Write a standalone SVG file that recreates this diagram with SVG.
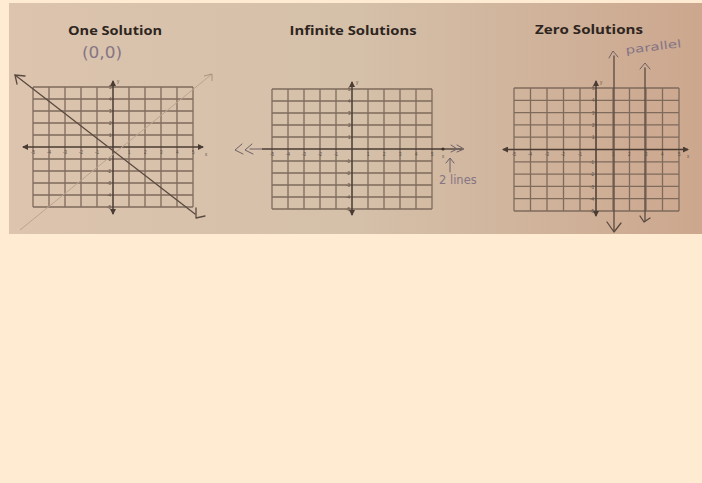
<svg xmlns="http://www.w3.org/2000/svg" width="702" height="483" viewBox="0 0 702 483">
<defs>
<linearGradient id="paper" x1="0" y1="0" x2="1" y2="0">
<stop offset="0" stop-color="#dcc4ae"/>
<stop offset="0.5" stop-color="#d5c0a9"/>
<stop offset="1" stop-color="#cca78e"/>
</linearGradient>
<marker id="ah" viewBox="0 0 6 6" refX="5" refY="3" markerWidth="4" markerHeight="4" orient="auto-start-reverse">
<path d="M0 0L6 3L0 6z" fill="#4a3c33"/>
</marker>
</defs>
<style>
.title{font-family:"Open Sans","Liberation Sans",sans-serif;font-weight:700;font-size:12px;fill:#2e2520}
.grid{fill:none;stroke:#7f6b5c;stroke-width:1.3}
.axis{fill:none;stroke:#4a3c33;stroke-width:1.5}
.tick{font-family:"Liberation Sans",sans-serif;font-size:4.5px;fill:#5e4e43}
.hand{font-family:"DejaVu Sans","Liberation Sans",sans-serif;fill:#857585}
.pen{fill:none;stroke:#5a4a40;stroke-width:1.3;stroke-linecap:round;stroke-linejoin:round}
.pencil{fill:none;stroke:#6e6068;stroke-width:1;stroke-linecap:round;stroke-linejoin:round}
</style>
<rect width="702" height="483" fill="#feebd2"/>
<rect x="9" y="3" width="693" height="231" fill="url(#paper)"/>

<g id="one-solution">
<text class="title" x="115" y="35" text-anchor="middle" textLength="94" lengthAdjust="spacingAndGlyphs">One Solution</text>
<text class="hand" x="102" y="58" font-size="16" text-anchor="middle" textLength="40" lengthAdjust="spacingAndGlyphs">(0,0)</text>
<path class="grid" d="M33 87V207M49 87V207M65 87V207M81 87V207M97 87V207M129 87V207M145 87V207M161 87V207M177 87V207M193 87V207M33 87H193M33 99H193M33 111H193M33 123H193M33 135H193M33 159H193M33 171H193M33 183H193M33 195H193M33 207H193"/>
<path class="axis" d="M23 147H203" marker-start="url(#ah)" marker-end="url(#ah)"/>
<path class="axis" d="M113 81V214" marker-start="url(#ah)" marker-end="url(#ah)"/>
<text class="tick" x="117" y="83">y</text>
<text class="tick" x="205" y="156">x</text>
<g class="tick"><text x="31" y="154">-5</text><text x="47" y="154">-4</text><text x="63" y="154">-3</text><text x="79" y="154">-2</text><text x="95" y="154">-1</text><text x="128" y="154">1</text><text x="144" y="154">2</text><text x="160" y="154">3</text><text x="176" y="154">4</text><text x="192" y="154">5</text>
<text x="109" y="89">5</text><text x="109" y="101">4</text><text x="109" y="113">3</text><text x="109" y="125">2</text><text x="109" y="137">1</text><text x="107" y="161">-1</text><text x="107" y="173">-2</text><text x="107" y="185">-3</text><text x="107" y="197">-4</text><text x="107" y="209">-5</text></g>
<path d="M20 230L212 74" fill="none" stroke="#bba590" stroke-width="1"/>
<path d="M204 76L212 74L212 81" fill="none" stroke="#a99080" stroke-width="1"/>
<path class="pen" d="M15 75L195 214"/>
<path class="pen" d="M15 75L25 76M15 75L17 84"/>
<path class="pen" d="M196 208L196 218L205 216"/>
</g>

<g id="infinite-solutions">
<text class="title" x="353" y="35" text-anchor="middle" textLength="127" lengthAdjust="spacingAndGlyphs">Infinite Solutions</text>
<path class="grid" d="M272 89V209M288 89V209M304 89V209M320 89V209M336 89V209M368 89V209M384 89V209M400 89V209M416 89V209M432 89V209M272 89H432M272 101H432M272 113H432M272 125H432M272 137H432M272 161H432M272 173H432M272 185H432M272 197H432M272 209H432"/>
<path class="axis" d="M262 149H443"/>
<path class="axis" d="M352 82V215" marker-start="url(#ah)" marker-end="url(#ah)"/>
<text class="tick" x="356" y="84">y</text>
<text class="tick" x="442" y="158">x</text>
<g class="tick"><text x="270" y="156">-5</text><text x="286" y="156">-4</text><text x="302" y="156">-3</text><text x="318" y="156">-2</text><text x="334" y="156">-1</text><text x="367" y="156">1</text><text x="383" y="156">2</text><text x="399" y="156">3</text><text x="415" y="156">4</text><text x="431" y="156">5</text>
<text x="348" y="91">5</text><text x="348" y="103">4</text><text x="348" y="115">3</text><text x="348" y="127">2</text><text x="348" y="139">1</text><text x="346" y="163">-1</text><text x="346" y="175">-2</text><text x="346" y="187">-3</text><text x="346" y="199">-4</text><text x="346" y="211">-5</text></g>
<path class="pen" d="M443 149H462"/>
<path class="pencil" d="M250 149H262M242 144L235 150L243 154M252 144L245 150L253 154"/>
<path class="pencil" d="M451 145L457 149L451 152M457 145L464 149L457 152"/>
<circle cx="443" cy="149" r="1.6" fill="#3e322b"/>
<path class="pencil" d="M450 172V159M446 163L450 158L454 163"/>
<text class="hand" x="439" y="184" font-size="11.5">2 lines</text>
</g>

<g id="zero-solutions">
<text class="title" x="589" y="34" text-anchor="middle" textLength="108" lengthAdjust="spacingAndGlyphs">Zero Solutions</text>
<path class="grid" d="M514 88V211M530.5 88V211M547 88V211M563.5 88V211M580 88V211M613 88V211M629.5 88V211M646 88V211M662.5 88V211M679 88V211M514 88H679M514 100.3H679M514 112.6H679M514 124.9H679M514 137.2H679M514 161.8H679M514 174.1H679M514 186.4H679M514 198.7H679M514 211H679"/>
<path class="axis" d="M503 149.5H688" marker-start="url(#ah)" marker-end="url(#ah)"/>
<path class="axis" d="M596 81V216" marker-start="url(#ah)" marker-end="url(#ah)"/>
<text class="tick" x="600" y="84">y</text>
<text class="tick" x="687" y="158">x</text>
<g class="tick"><text x="512" y="156">-5</text><text x="528" y="156">-4</text><text x="545" y="156">-3</text><text x="561" y="156">-2</text><text x="578" y="156">-1</text><text x="612" y="156">1</text><text x="628" y="156">2</text><text x="645" y="156">3</text><text x="661" y="156">4</text><text x="678" y="156">5</text>
<text x="592" y="90">5</text><text x="592" y="102">4</text><text x="592" y="115">3</text><text x="592" y="127">2</text><text x="592" y="139">1</text><text x="590" y="164">-1</text><text x="590" y="176">-2</text><text x="590" y="189">-3</text><text x="590" y="201">-4</text><text x="590" y="213">-5</text></g>
<path class="pen" d="M614 56V231"/>
<path class="pencil" d="M609 58L613 51L618 57"/>
<path class="pen" d="M607 222L614 232L621 223"/>
<path class="pen" d="M645 68V221"/>
<path class="pencil" d="M640 69L645 63L650 69"/>
<path class="pen" d="M640 216L644 222L650 218"/>
<text class="hand" x="626" y="54" font-size="11" transform="rotate(-7 626 54)" textLength="56" lengthAdjust="spacingAndGlyphs">parallel</text>
</g>
</svg>
